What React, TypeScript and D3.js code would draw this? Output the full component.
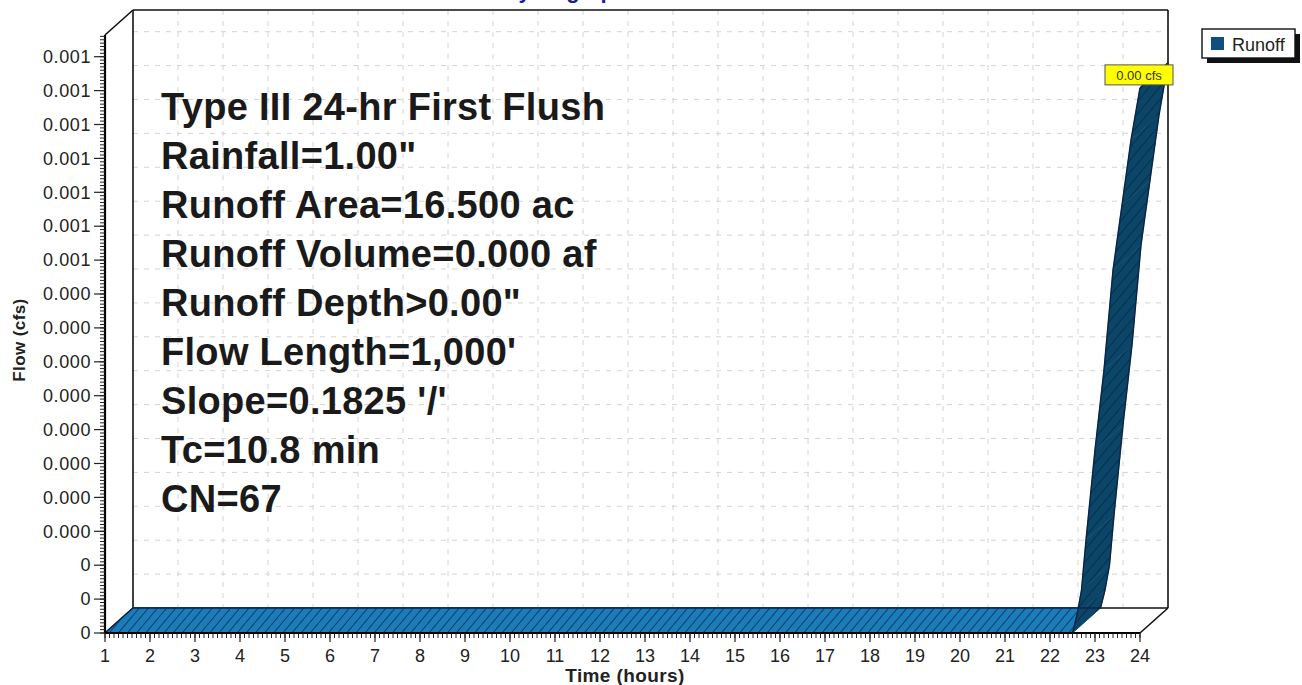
import React from "react";
import * as d3 from "d3";

// ---- data ----
const hours = [1, 22.5, 22.6, 22.7, 22.8, 23.0, 23.2, 23.4, 23.6, 23.8, 24.0];
const flows = [0, 0, 0.0000265, 0.0000634, 0.000137, 0.00027, 0.000388, 0.000535, 0.000631, 0.000727, 0.000804];

const xTickValues = [1, 2, 3, 4, 5, 6, 7, 8, 9, 10, 11, 12, 13, 14, 15, 16, 17, 18, 19, 20, 21, 22, 23, 24];
const yTickValues = [0, 0.00005, 0.0001, 0.00015, 0.0002, 0.00025, 0.0003, 0.00035, 0.0004, 0.00045, 0.0005, 0.00055, 0.0006, 0.00065, 0.0007, 0.00075, 0.0008, 0.00085];
const yTickLabels = ["0", "0", "0", "0.000", "0.000", "0.000", "0.000", "0.000", "0.000", "0.000", "0.000", "0.001", "0.001", "0.001", "0.001", "0.001", "0.001", "0.001"];

const infoLines = [
  "Type III 24-hr First Flush",
  'Rainfall=1.00"',
  "Runoff Area=16.500 ac",
  "Runoff Volume=0.000 af",
  'Runoff Depth>0.00"',
  "Flow Length=1,000'",
  "Slope=0.1825 '/'",
  "Tc=10.8 min",
  "CN=67",
];
const peakLabel = "0.00 cfs";
const seriesName = "Runoff";
const chartTitle = "Hydrograph";

// ---- layout ----
const W = 1302;
const H = 685;
const FONT = "'Liberation Sans', Arial, Helvetica, sans-serif";
const DX = 28;
const DY = -25;

export default function App() {
  const x = d3.scaleLinear().domain([1, 24]).range([105, 1140]);
  const y = d3.scaleLinear().domain([0, 0.000882]).range([633, 35]);
  const [x0, x1] = x.range();
  const [y0, yTop] = y.range();

  const pts = hours.map((h, i) => [x(h), y(flows[i])] as [number, number]);
  const back = pts.map(([px, py]) => [px + DX, py + DY] as [number, number]);

  const quads = pts.slice(0, -1).map((p, i) => {
    const q = pts[i + 1];
    const slope = Math.abs((q[1] - p[1]) / (q[0] - p[0] || 1e-6));
    const poly = [p, q, back[i + 1], back[i]];
    return { poly, light: slope < 1.2 };
  });

  const line = d3.line();
  const yMinor = d3.range(0, 0.000882, 0.000005);
  const xMinor = d3.range(1, 24.001, 0.1);

  const peakIdx = flows.indexOf(d3.max(flows) as number);
  const peakX = pts[peakIdx][0];
  const peakY = pts[peakIdx][1];

  return (
    <svg width={W} height={H} style={{ position: "absolute", left: 0, top: 0, background: "#fff" }} fontFamily={FONT}>
      <defs>
        <pattern id="hatchLight" patternUnits="userSpaceOnUse" width="7" height="7" patternTransform="rotate(40)">
          <rect width="7" height="7" fill="#1b7cba" />
          <line x1="0" y1="0" x2="0" y2="7" stroke="#0c2d52" strokeWidth="1.6" />
        </pattern>
        <pattern id="hatchDark" patternUnits="userSpaceOnUse" width="8" height="8" patternTransform="rotate(40)">
          <rect width="8" height="8" fill="#0b4668" />
          <line x1="0" y1="0" x2="0" y2="8" stroke="#062c45" strokeWidth="1.8" />
        </pattern>
      </defs>

      {/* title (mostly cut off at the top edge, as in the source) */}
      <text x={565} y={-2} textAnchor="middle" fontSize={22} fontWeight="bold" fill="#1c1c96">{chartTitle}</text>

      {/* back wall grid */}
      {xTickValues.slice(1, -1).map((h) => (
        <line key={"gx" + h} x1={x(h) + DX} x2={x(h) + DX} y1={yTop + DY} y2={y0 + DY} stroke="#d4d4d4" strokeDasharray="5,6" />
      ))}
      {yTickValues.slice(1).map((v) => (
        <line key={"gy" + v} x1={x0 + DX} x2={x1 + DX} y1={y(v) + DY} y2={y(v) + DY} stroke="#d4d4d4" strokeDasharray="5,6" />
      ))}

      {/* box frame */}
      <g stroke="#111" fill="none" strokeWidth={1.6}>
        <line x1={x0 + DX} y1={yTop + DY} x2={x1 + DX} y2={yTop + DY} />
        <line x1={x0 + DX} y1={yTop + DY} x2={x0 + DX} y2={y0 + DY} />
        <line x1={x1 + DX} y1={yTop + DY} x2={x1 + DX} y2={y0 + DY} />
        <line x1={x0 + DX} y1={y0 + DY} x2={x1 + DX} y2={y0 + DY} />
        <line x1={x0} y1={yTop} x2={x0 + DX} y2={yTop + DY} />
        <line x1={x0} y1={y0} x2={x0 + DX} y2={y0 + DY} />
        <line x1={x1} y1={y0} x2={x1 + DX} y2={y0 + DY} />
      </g>

      {/* info text */}
      {infoLines.map((t, i) => (
        <text key={t} x={161} y={120 + i * 49} fontSize={38} fontWeight="bold" letterSpacing={0.3} fill="#1a1a1a">{t}</text>
      ))}

      {/* ribbon */}
      {quads.map((q, i) => (
        <path key={"q" + i} d={line(q.poly as [number, number][]) + "Z"} fill={q.light ? "url(#hatchLight)" : "url(#hatchDark)"} stroke={q.light ? "#1b7cba" : "#0b4668"} strokeWidth={0.6} />
      ))}
      <g fill="none" stroke="#0a2448" strokeWidth={1.4}>
        <path d={line(pts) || ""} />
        <path d={line(back) || ""} />
        <path d={line([pts[0], back[0]]) || ""} />
        <path d={line([pts[pts.length - 1], back[back.length - 1]]) || ""} />
      </g>

      {/* y axis */}
      <line x1={x0} x2={x0} y1={yTop} y2={y0} stroke="#000" strokeWidth={2.2} />
      {yMinor.map((v, i) => (
        <line key={"ym" + i} x1={x0 - 5} x2={x0} y1={y(v)} y2={y(v)} stroke="#222" strokeWidth={1} />
      ))}
      {yTickValues.map((v, i) => (
        <g key={"yt" + i}>
          <line x1={x0 - 11} x2={x0} y1={y(v)} y2={y(v)} stroke="#222" strokeWidth={1.2} />
          <text x={x0 - 14} y={y(v)} dy="0.35em" textAnchor="end" fontSize={18} letterSpacing={0.6} fill="#222">{yTickLabels[i]}</text>
        </g>
      ))}

      {/* x axis */}
      <line x1={x0} x2={x1} y1={y0} y2={y0} stroke="#000" strokeWidth={2.2} />
      {xMinor.map((v, i) => (
        <line key={"xm" + i} x1={x(v)} x2={x(v)} y1={y0} y2={y0 + 5} stroke="#222" strokeWidth={1} />
      ))}
      {xTickValues.map((h) => (
        <g key={"xt" + h}>
          <line x1={x(h)} x2={x(h)} y1={y0} y2={y0 + 9} stroke="#222" strokeWidth={1.2} />
          <text x={x(h)} y={y0 + 29} textAnchor="middle" fontSize={18} fill="#222">{h}</text>
        </g>
      ))}

      {/* axis titles */}
      <text x={625} y={682} textAnchor="middle" fontSize={19} fontWeight="bold" letterSpacing={0.4} fill="#222">Time  (hours)</text>
      <text transform="translate(25,340) rotate(-90)" textAnchor="middle" fontSize={17} fontWeight="bold" letterSpacing={0.4} fill="#222">Flow  (cfs)</text>

      {/* peak label */}
      <g>
        <rect x={peakX - 35} y={peakY - 23} width={68} height={20} fill="#ffff00" stroke="#555" strokeWidth={1} />
        <text x={peakX - 1} y={peakY - 8} textAnchor="middle" fontSize={13} fill="#333">{peakLabel}</text>
      </g>

      {/* legend */}
      <g>
        <rect x={1207} y={34} width={93} height={29} fill="#111" />
        <rect x={1202} y={29} width={93} height={29} fill="#fff" stroke="#111" strokeWidth={1.4} />
        <rect x={1211} y={37} width={13} height={13} fill="#0f4f80" />
        <text x={1232} y={51} fontSize={18} fill="#222">{seriesName}</text>
      </g>
    </svg>
  );
}
